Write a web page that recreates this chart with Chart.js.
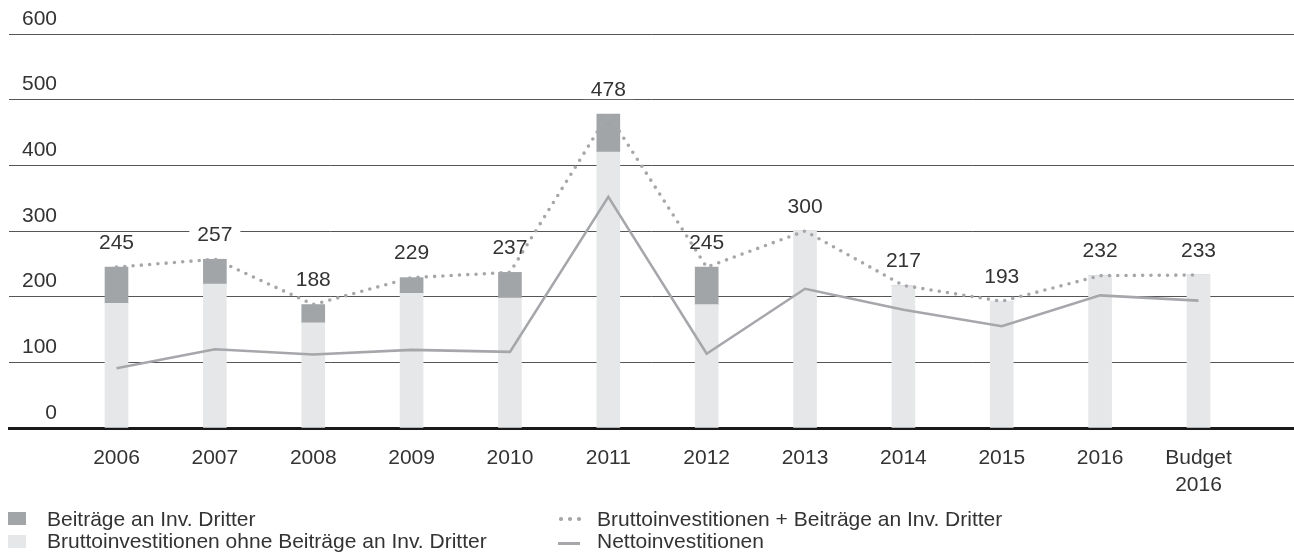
<!DOCTYPE html>
<html><head><meta charset="utf-8">
<script src="https://cdn.jsdelivr.net/npm/chart.js@4/dist/chart.umd.min.js"></script>
<style>
html,body{margin:0;padding:0;background:#fff;}
#wrap{position:relative;width:1294px;height:554px;overflow:hidden;}
#c{position:absolute;left:0;top:0;}
.lgt{position:absolute;font:21px "Liberation Sans",Arial,sans-serif;color:#333;line-height:22px;white-space:nowrap;}
.sw{position:absolute;}
</style></head><body>
<div id="wrap"><canvas id="c" width="1294" height="554"></canvas><div id="legend"></div></div>
<script>
const categories = ['2006','2007','2008','2009','2010','2011','2012','2013','2014','2015','2016','Budget 2016'];
const contribThirdParty = [55, 38, 28, 24, 39, 58, 57, 0, 0, 0, 0, 0];
const grossExclContrib = [190, 219, 160, 205, 198, 420, 188, 300, 217, 193, 232, 233];
const grossTotal = [245, 257, 188, 229, 237, 478, 245, 300, 217, 193, 232, 233];
const netInvest = [91, 120, 112, 119, 116, 352, 113, 212, 180, 155, 202, 194];
const yTickValues = [0, 100, 200, 300, 400, 500, 600];
const seriesNames = ['Beiträge an Inv. Dritter', 'Bruttoinvestitionen ohne Beiträge an Inv. Dritter', 'Bruttoinvestitionen + Beiträge an Inv. Dritter', 'Nettoinvestitionen'];

const DARK = '#a2a5a8', LIGHT = '#e6e7e8', LINE = '#a5a7aa', TEXT = '#333333';
const FONT = '"Liberation Sans", Arial, sans-serif';
const pts = arr => arr.map((v, i) => ({x: i, y: v}));

const totalsLabels = {
  id: 'totalsLabels',
  beforeDatasetsDraw(chart) {
    const {ctx, scales: {x, y}} = chart;
    ctx.save();
    ctx.font = '21px ' + FONT;
    ctx.fillStyle = '#ffffff';
    grossTotal.forEach((v, i) => {
      const px = x.getPixelForValue(i), py = y.getPixelForValue(v) - 24;
      const w = ctx.measureText(String(v)).width;
      ctx.fillRect(px - w / 2 - 8, py - 9, w + 16, 18);
    });
    ctx.restore();
  },
  afterDatasetsDraw(chart) {
    const {ctx, scales: {x, y}} = chart;
    ctx.save();
    ctx.font = '21px ' + FONT;
    ctx.fillStyle = TEXT;
    ctx.textAlign = 'center';
    ctx.textBaseline = 'middle';
    grossTotal.forEach((v, i) => {
      ctx.fillText(String(v), x.getPixelForValue(i), y.getPixelForValue(v) - 24);
    });
    ctx.restore();
  }
};

new Chart(document.getElementById('c'), {
  type: 'bar',
  data: {
    datasets: [
      {type: 'line', label: seriesNames[2], data: pts(grossTotal), stack: 'l1', order: 0,
       borderColor: LINE, borderWidth: 3.6, borderDash: [0, 8.3], borderCapStyle: 'round',
       pointRadius: 0, tension: 0, fill: false},
      {type: 'line', label: seriesNames[3], data: pts(netInvest), stack: 'l2', order: 1,
       borderColor: LINE, borderWidth: 2.6, pointRadius: 0, tension: 0, fill: false},
      {label: seriesNames[1], data: pts(grossExclContrib), stack: 'bars', order: 2,
       backgroundColor: LIGHT, borderWidth: 0, barThickness: 23},
      {label: seriesNames[0], data: pts(contribThirdParty), stack: 'bars', order: 2,
       backgroundColor: DARK, borderWidth: 0, barThickness: 23}
    ]
  },
  options: {
    responsive: false,
    animation: false,
    events: [],
    layout: {padding: {top: 34, left: 9, right: 0, bottom: 0}},
    plugins: {legend: {display: false}, tooltip: {enabled: false}},
    scales: {
      x: {
        type: 'linear', stacked: true, bounds: 'data', offset: false,
        min: -1.093, max: 11.971,
        afterBuildTicks: s => { s.ticks = categories.map((c, i) => ({value: i})); },
        afterFit: s => { s.height = 126; },
        grid: {display: false, drawTicks: false, offset: false},
        border: {display: true, color: '#1a1a1a', width: 3},
        ticks: {
          color: TEXT, font: {family: FONT, size: 21, lineHeight: 1.27}, padding: 17,
          maxRotation: 0, autoSkip: false,
          callback: v => { const c = categories[v]; return c && c.indexOf(' ') > 0 ? c.split(' ') : c; }
        }
      },
      y: {
        stacked: true, min: 0, max: 600,
        afterBuildTicks: s => { s.ticks = yTickValues.map(v => ({value: v})); },
        afterFit: s => { s.width = 0; },
        grid: {color: '#555555', lineWidth: 1, drawTicks: false},
        border: {display: false},
        ticks: {mirror: true, crossAlign: 'far', padding: 13, labelOffset: -15,
                color: TEXT, font: {family: FONT, size: 21}}
      }
    }
  },
  plugins: [totalsLabels]
});

// legend
const lg = document.getElementById('legend');
function add(html){ lg.insertAdjacentHTML('beforeend', html); }
add(`<div class="sw" style="left:8px;top:512px;width:18px;height:13px;background:${DARK}"></div>`);
add(`<div class="lgt" style="left:47px;top:508px">${seriesNames[0]}</div>`);
add(`<div class="sw" style="left:8px;top:535px;width:18px;height:13px;background:${LIGHT}"></div>`);
add(`<div class="lgt" style="left:47px;top:530px">${seriesNames[1]}</div>`);
[559, 568, 577].forEach(x => add(`<div class="sw" style="left:${x}px;top:517px;width:3.5px;height:3.5px;border-radius:50%;background:${LINE}"></div>`));
add(`<div class="lgt" style="left:597px;top:508px">${seriesNames[2]}</div>`);
add(`<div class="sw" style="left:558px;top:542px;width:22px;height:2.5px;background:${LINE}"></div>`);
add(`<div class="lgt" style="left:597px;top:530px">${seriesNames[3]}</div>`);
</script>
</body></html>
